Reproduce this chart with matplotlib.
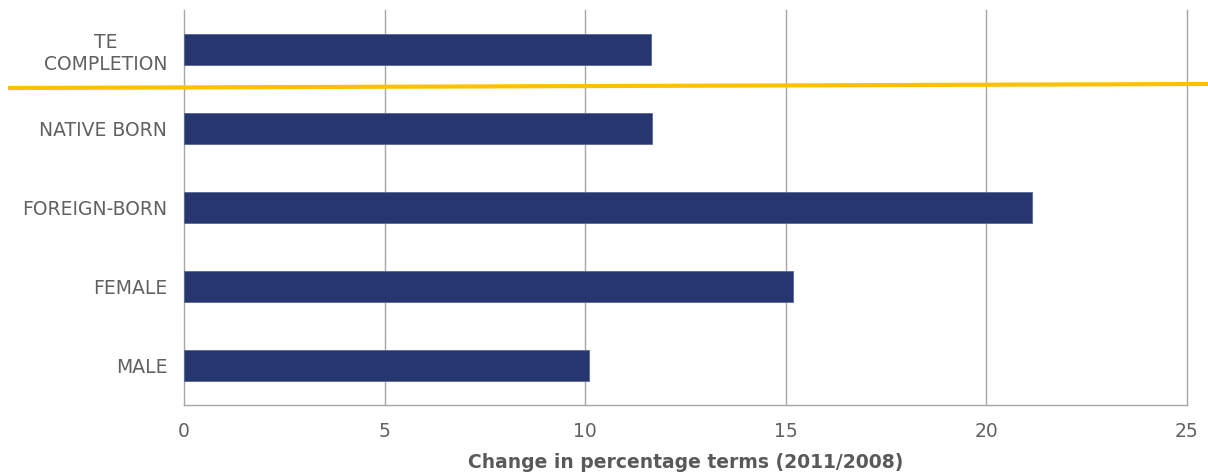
import matplotlib.pyplot as plt
from matplotlib.lines import Line2D

# categories bottom to top
groups = ['MALE', 'FEMALE', 'FOREIGN-BORN', 'NATIVE BORN', 'TE\nCOMPLETION']
change = [10.1, 15.18, 21.14, 11.67, 11.64]
xticks = [0, 5, 10, 15, 20, 25]

fig = plt.figure(figsize=(12.08, 4.72), dpi=100)
ax = fig.add_axes([184 / 1208, 1 - 405 / 472, 1003 / 1208, 395 / 472])

ypos = list(range(len(groups)))
ax.barh(ypos, change, height=0.4, color='#27366F', edgecolor='#5A6699', linewidth=0.6, zorder=3)

ax.set_xlim(0, 25)
ax.set_ylim(-0.5, 4.5)
ax.set_xticks(xticks)
ax.set_yticks(ypos)
ax.set_yticklabels(groups, multialignment='center', linespacing=1.25)
ax.tick_params(axis='both', length=0, colors='#616161', labelsize=13.5)
ax.tick_params(axis='y', pad=12)
ax.tick_params(axis='x', pad=12)
ax.grid(axis='x', color='#A6A6A6', linewidth=1.0, zorder=0)
for gl in ax.get_xgridlines():
    gl.set_clip_on(False)

for s in ['top', 'right', 'left']:
    ax.spines[s].set_visible(False)
ax.spines['bottom'].set_color('#A6A6A6')
ax.spines['bottom'].set_linewidth(1.0)

ax.set_xlabel('Change in percentage terms (2011/2008)', fontsize=13.5, fontweight='bold',
              color='#595959', labelpad=9)

# yellow separator line across the figure
fig.add_artist(Line2D([10 / 1208, 1.0], [1 - 88 / 472, 1 - 84 / 472], color='#FFC000',
                      linewidth=3, transform=fig.transFigure, zorder=5))

fig.savefig('out.png', dpi=100, facecolor='white')
